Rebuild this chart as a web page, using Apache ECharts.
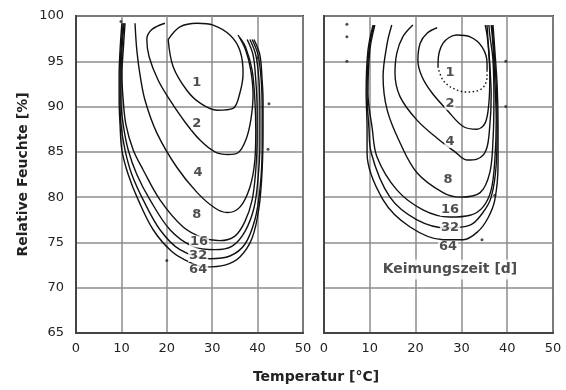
<!DOCTYPE html>
<html><head><meta charset="utf-8">
<script src="https://cdn.jsdelivr.net/npm/echarts@6/dist/echarts.min.js"></script>
<style>html,body{margin:0;padding:0;background:#fff}#c{width:566px;height:390px}</style>
</head><body><div id="c"></div>
<script>
// ---- tick labels / axes ----
var xTicks = [0, 10, 20, 30, 40, 50];
var yTicks = [65, 70, 75, 80, 85, 90, 95, 100];

// ---- left panel isolines (Temperatur, rel. Feuchte) ----
var L1 = [[20.3,97.4],[21.4,94.4],[24.4,91.8],[27.3,90.4],[31.1,89.6],[34.6,89.8],[36.1,91.5],[36.8,93.7],[36.1,96.2],[33.9,97.9],[30.2,99.0],[26.7,99.2],[22.9,98.8],[20.3,97.4]];
var L2 = [[19.6,99.2],[16.7,98.5],[15.6,97.4],[16.1,95.5],[18.1,92.9],[20.7,90.7],[24.0,88.3],[27.3,86.3],[30.6,85.0],[33.5,84.7],[35.7,84.9],[37.4,86.3],[38.5,88.5],[39.0,91.3],[38.5,94.0],[37.4,96.2],[35.7,97.9]];
var L4 = [[13.0,99.2],[13.4,96.2],[14.1,93.5],[15.2,90.7],[17.8,87.1],[22.2,83.3],[26.7,80.5],[30.6,78.8],[33.3,78.3],[36.1,78.9],[38.3,81.1],[39.4,84.1],[39.6,87.4],[39.4,90.7],[38.8,94.0],[37.4,96.5],[36.1,97.6]];
var L8 = [[10.8,99.2],[10.4,96.2],[10.1,93.5],[10.4,90.7],[11.0,88.0],[12.6,85.2],[14.8,83.0],[18.5,79.7],[23.6,76.7],[28.0,75.5],[31.7,75.2],[35.0,75.7],[37.2,77.3],[38.8,79.7],[39.6,83.0],[39.9,86.3],[39.9,89.6],[39.6,92.9],[39.0,95.7],[37.7,97.4]];
var L16 = [[10.6,99.2],[10.1,96.2],[9.9,93.5],[9.9,90.7],[10.4,88.0],[11.5,85.2],[13.4,82.5],[16.3,79.7],[20.7,76.4],[25.6,74.6],[30.6,74.2],[34.4,74.6],[37.2,76.2],[39.2,78.8],[40.1,82.1],[40.5,85.8],[40.5,89.6],[40.3,92.9],[39.6,95.7],[38.3,97.4]];
var L32 = [[10.4,99.2],[9.9,96.2],[9.7,93.5],[9.7,90.7],[9.9,88.0],[10.8,85.2],[12.3,82.5],[14.8,79.7],[18.5,76.4],[22.9,74.2],[29.5,73.2],[33.9,73.5],[37.2,74.8],[39.4,77.5],[40.5,80.8],[41.0,85.2],[41.0,89.6],[40.8,92.9],[40.1,95.7],[38.8,97.4]];
var L64 = [[10.1,99.2],[9.7,96.2],[9.5,93.5],[9.5,90.7],[9.7,88.0],[10.1,85.2],[11.5,82.5],[13.7,79.7],[17.0,76.4],[21.1,74.0],[25.1,72.8],[28.4,72.3],[32.8,72.5],[36.1,73.4],[38.8,75.5],[40.3,78.8],[41.0,83.0],[41.2,87.4],[41.2,90.7],[41.0,92.9],[40.5,95.7],[39.2,97.4]];
var leftLabels = [['1',26.6,92.6],['2',26.6,88.1],['4',26.9,82.7],['8',26.6,78.1],['16',27.1,75.1],['32',26.9,73.5],['64',26.9,72.0]];
var leftDots = [[40.1,95.4],[42.5,90.3],[42.3,85.3],[9.9,99.4],[20.0,73.0]];

// ---- right panel isolines ----
var R1solid = [[24.9,94.3],[24.9,94.8],[26.0,97.0],[29.0,97.9],[31.9,97.7],[34.5,96.6],[35.6,94.8],[35.6,94.0]];
var R1dotted = [[35.6,94.0],[35.6,93.3],[34.5,92.0],[31.2,91.6],[28.2,92.0],[26.0,92.9],[24.9,94.3]];
var R2 = [[24.7,98.7],[22.5,98.1],[21.0,97.0],[20.5,95.1],[21.4,93.3],[23.6,91.5],[26.9,89.6],[30.4,87.8],[33.4,87.5],[35.2,88.2],[36.0,90.4],[36.2,93.3],[36.0,95.9],[35.6,97.9],[35.2,99.0]];
var R4 = [[19.4,99.0],[17.2,97.7],[15.9,95.9],[15.5,93.7],[16.6,91.1],[20.3,88.5],[24.7,86.5],[28.6,85.0],[31.2,84.1],[33.4,84.2],[35.4,85.2],[36.2,87.9],[36.5,91.2],[36.2,94.6],[35.8,97.4],[35.6,99.0]];
var R8 = [[14.8,99.0],[13.8,97.0],[12.9,93.3],[13.8,89.6],[16.6,86.0],[20.3,82.7],[26.0,80.5],[29.7,80.0],[34.1,80.5],[36.2,82.7],[36.9,86.3],[37.1,90.7],[36.9,95.1],[36.2,97.9],[36.0,99.0]];
var R16 = [[11.1,99.0],[10.0,96.2],[9.6,91.5],[10.5,87.7],[11.6,84.4],[15.9,80.8],[21.6,78.6],[27.5,77.8],[31.9,78.0],[34.7,78.9],[36.5,80.8],[37.3,84.1],[37.6,88.5],[37.3,92.9],[36.9,96.8],[36.5,99.0]];
var R32 = [[10.9,99.0],[9.8,96.2],[9.4,91.5],[9.8,87.7],[10.3,84.9],[14.4,80.0],[20.3,77.5],[26.9,76.6],[31.9,76.9],[34.7,78.3],[36.5,80.0],[37.6,83.6],[37.8,88.0],[37.6,92.4],[37.1,96.2],[36.7,99.0]];
var R64 = [[10.7,99.0],[9.6,96.2],[9.2,91.5],[9.4,87.7],[9.4,84.9],[12.9,79.7],[18.8,76.7],[26.0,75.3],[30.4,75.3],[33.6,76.2],[35.8,77.7],[37.3,79.7],[38.0,83.6],[38.0,88.0],[37.8,92.4],[37.3,96.2],[36.9,99.0]];
var rightLabels = [['1',27.5,93.7],['2',27.5,90.3],['4',27.5,86.1],['8',27.1,81.9],['16',27.5,78.6],['32',27.5,76.6],['64',27.1,74.5]];
var rightDots = [[5.0,99.1],[5.0,97.7],[5.0,95.0],[39.7,95.0],[39.7,90.0],[37.3,80.2],[34.5,75.3]];
var legendNote = ['Keimungszeit [d]', 27.5, 72.0];

var FONT = '"DejaVu Sans", Verdana, sans-serif';
var chart = echarts.init(document.getElementById('c'), null, {renderer:'canvas'});

function lineS(data, i, dotted) {
  return {type:'line', xAxisIndex:i, yAxisIndex:i, data:data, smooth:0.35, showSymbol:false, silent:true, z:3,
    lineStyle:{color:'#111', width:1.4, type: dotted ? [1.5,2.5] : 'solid'}};
}
function labelS(list, i) {
  return {type:'scatter', xAxisIndex:i, yAxisIndex:i, symbolSize:1, z:5, silent:true,
    itemStyle:{color:'rgba(0,0,0,0)'},
    data:list.map(function(l){return {name:l[0], value:[l[1], l[2]]};}),
    label:{show:true, position:'inside', formatter:'{b}', color:'#222', fontFamily:FONT, fontSize:13, fontWeight:'bold',
      backgroundColor:'#fff', padding:[0,1], lineHeight:12}};
}
function dotS(list, i) {
  return {type:'scatter', xAxisIndex:i, yAxisIndex:i, symbolSize:3, z:4, silent:true, itemStyle:{color:'#222'}, data:list};
}

var grids = [
  {left:76, top:16, width:227, height:317, show:true, borderColor:'#444', borderWidth:2, backgroundColor:'#fff'},
  {left:324, top:16, width:229, height:317, show:true, borderColor:'#444', borderWidth:2, backgroundColor:'#fff'}
];
function xAx(i) {
  return {type:'value', gridIndex:i, min:xTicks[0], max:xTicks[xTicks.length-1], interval:10,
    axisLine:{show:true, lineStyle:{color:'#444', width:2}}, axisTick:{show:false},
    axisLabel:{color:'#222', fontFamily:FONT, fontSize:13, margin:9},
    splitLine:{show:true, lineStyle:{color:'#8c8c8c', width:1.5}}};
}
function yAx(i) {
  return {type:'value', gridIndex:i, min:yTicks[0], max:yTicks[yTicks.length-1], interval:5,
    axisLine:{show:true, lineStyle:{color:'#444', width:2}}, axisTick:{show:false},
    axisLabel:{show:i===0, color:'#222', fontFamily:FONT, fontSize:13, margin:12},
    splitLine:{show:true, lineStyle:{color:'#8c8c8c', width:1.5}},
    name: i===0 ? 'Relative Feuchte [%]' : '', nameLocation:'middle', nameRotate:90, nameGap:53,
    nameTextStyle:{color:'#222', fontFamily:FONT, fontSize:14, fontWeight:'bold', verticalAlign:'middle'}};
}

var series = [
  lineS(L1,0), lineS(L2,0), lineS(L4,0), lineS(L8,0), lineS(L16,0), lineS(L32,0), lineS(L64,0),
  labelS(leftLabels,0), dotS(leftDots,0),
  lineS(R1solid,1), lineS(R1dotted,1,true), lineS(R2,1), lineS(R4,1), lineS(R8,1), lineS(R16,1), lineS(R32,1), lineS(R64,1),
  labelS(rightLabels,1), dotS(rightDots,1),
  {type:'scatter', xAxisIndex:1, yAxisIndex:1, symbolSize:1, z:5, silent:true, itemStyle:{color:'rgba(0,0,0,0)'},
    data:[{name:legendNote[0], value:[legendNote[1], legendNote[2]]}],
    label:{show:true, position:'inside', formatter:'{b}', color:'#222', fontFamily:FONT, fontSize:14, fontWeight:'bold',
      backgroundColor:'#fff', padding:[3,2]}}
];

chart.setOption({
  animation:false,
  backgroundColor:'#fff',
  grid:grids,
  xAxis:[xAx(0), xAx(1)],
  yAxis:[yAx(0), yAx(1)],
  series:series,
  graphic:[{type:'text', x:316, y:377, style:{text:'Temperatur [°C]', fill:'#222', fontFamily:FONT, fontSize:14, fontWeight:'bold', align:'center', verticalAlign:'middle'}}]
});
</script></body></html>
